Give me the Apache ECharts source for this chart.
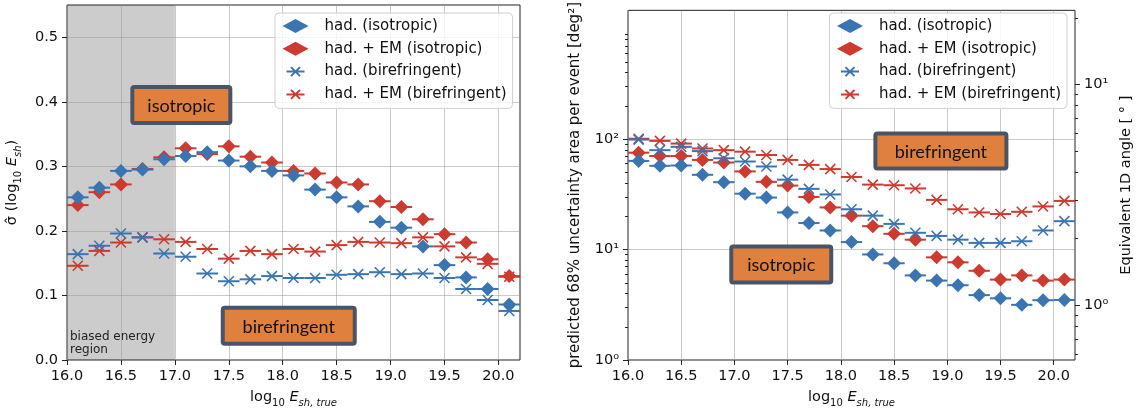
<!DOCTYPE html>
<html>
<head>
<meta charset="utf-8">
<title>Energy resolution and uncertainty area</title>
<script src="https://cdn.jsdelivr.net/npm/echarts@6/dist/echarts.min.js"></script>
<style>
  html, body { margin: 0; padding: 0; background: #fff; }
  #main { width: 1140px; height: 416px; }
</style>
</head>
<body>
<div id="main"></div>
<script>
// bin centres in log10(E_sh,true); every bin is 0.2 wide
var energyBins = [16.1, 16.3, 16.5, 16.7, 16.9, 17.1, 17.3, 17.5, 17.7, 17.9, 18.1,
                  18.3, 18.5, 18.7, 18.9, 19.1, 19.3, 19.5, 19.7, 19.9, 20.1];
var binHalfWidth = 0.1;
var biasedRegion = [16.0, 17.0];

// left panel: sigma(log10 E_sh)
var resHadIso    = [0.252, 0.267, 0.293, 0.295, 0.311, 0.316, 0.322, 0.309, 0.300, 0.293, 0.286,
                    0.264, 0.252, 0.238, 0.214, 0.205, 0.176, 0.147, 0.128, 0.110, 0.086];
var resHadEmIso  = [0.240, 0.260, 0.272, 0.296, 0.314, 0.328, 0.319, 0.331, 0.315, 0.306, 0.293,
                    0.289, 0.275, 0.272, 0.246, 0.237, 0.218, 0.195, 0.182, 0.156, 0.130];
var resHadBire   = [0.164, 0.177, 0.196, 0.190, 0.165, 0.160, 0.134, 0.122, 0.125, 0.130, 0.127,
                    0.127, 0.132, 0.133, 0.136, 0.133, 0.134, 0.127, 0.110, 0.093, 0.076];
var resHadEmBire = [0.146, 0.169, 0.182, 0.190, 0.187, 0.183, 0.172, 0.157, 0.169, 0.164, 0.172,
                    0.168, 0.178, 0.183, 0.182, 0.181, 0.190, 0.176, 0.159, 0.149, 0.129];

// right panel: predicted 68% uncertainty area per event [deg^2]
var areaHadIso    = [63.6, 57.4, 57.8, 47.6, 40.8, 32.1, 29.6, 21.7, 17.4, 14.9, 11.7,
                     9.04, 7.52, 5.84, 5.24, 4.76, 3.87, 3.62, 3.16, 3.48, 3.50];
var areaHadEmIso  = [75.5, 70.4, 70.4, 64.9, 61.5, 51.1, 41.1, 38.0, 30.0, 24.1, 20.3,
                     16.3, 13.9, 12.3, 8.51, 7.67, 6.43, 5.35, 5.84, 5.24, 5.35];
var areaHadBire   = [99.2, 79.6, 85.3, 78.0, 67.2, 62.8, 56.6, 43.0, 35.5, 31.6, 23.2,
                     20.3, 17.1, 14.2, 13.3, 12.3, 11.5, 11.5, 11.9, 14.9, 18.1];
var areaHadEmBire = [101, 96.6, 91.3, 82.4, 79.6, 77.1, 71.9, 64.9, 58.5, 53.6, 45.5,
                     38.8, 38.3, 35.8, 28.2, 23.2, 21.7, 21.0, 22.0, 24.6, 27.6];

// ticks
var xTicks = [16.0, 16.5, 17.0, 17.5, 18.0, 18.5, 19.0, 19.5, 20.0];
var resTicks = [0.0, 0.1, 0.2, 0.3, 0.4, 0.5];
var areaTicks = [1, 10, 100];
var areaMinorTicks = [2, 3, 4, 5, 6, 7, 8, 9, 20, 30, 40, 50, 60, 70, 80, 90,
                      200, 300, 400, 500, 600, 700, 800, 900];
var angleTicks = [1, 10];
var angleMinorTicks = [0.6, 0.7, 0.8, 0.9, 2, 3, 4, 5, 6, 7, 8, 9, 20];

var areaMin = 1, areaMax = 1470;
// area = pi * angle^2
var angleMin = Math.sqrt(areaMin / Math.PI), angleMax = Math.sqrt(areaMax / Math.PI);

var BLUE = '#3a75b1', RED = '#cc3a30';
var FONT = 'DejaVu Sans';
var GRIDCOL = 'rgba(150,150,150,0.5)';
var NAMES = ['had. (isotropic)', 'had. + EM (isotropic)', 'had. (birefringent)', 'had. + EM (birefringent)'];
var X_SYMBOL = 'path://M0,0L10,10M10,0L0,10';
var X_ICON = 'path://M0,0M26,14M4,7L22,7M8.5,2.5L17.5,11.5M17.5,2.5L8.5,11.5';

function zip(vals) {
  return energyBins.map(function (x, i) { return [x, vals[i]]; });
}

function supLabel(v) {
  var sup = ['\u2070', '\u00b9', '\u00b2', '\u00b3'];
  return '10' + sup[Math.round(Math.log10(v))];
}

// error bar segments + markers for one measurement
function pair(name, vals, gi, yi, color, isX) {
  var bars = {
    type: 'custom', xAxisIndex: gi, yAxisIndex: yi, z: 2, silent: true,
    data: zip(vals),
    renderItem: function (params, api) {
      var x = api.value(0), y = api.value(1);
      var a = api.coord([x - binHalfWidth, y]);
      var b = api.coord([x + binHalfWidth, y]);
      return { type: 'line', shape: { x1: a[0], y1: a[1], x2: b[0], y2: b[1] },
               style: { stroke: color, lineWidth: 2 } };
    }
  };
  var marks = {
    type: 'scatter', name: name, xAxisIndex: gi, yAxisIndex: yi, z: 2,
    data: zip(vals),
    symbol: isX ? X_SYMBOL : 'diamond',
    symbolSize: isX ? 10 : 14,
    itemStyle: isX ? { color: color, borderColor: color, borderWidth: 1.6, opacity: 1 }
                   : { color: color, opacity: 1 },
    emphasis: { disabled: true }
  };
  return [bars, marks];
}

var rich = {
  n:  { fontSize: 14.5, fontFamily: FONT, color: '#111', verticalAlign: 'bottom', padding: [0, 0, 3, 0] },
  i:  { fontSize: 14.5, fontFamily: FONT, color: '#111', fontStyle: 'italic', verticalAlign: 'bottom', padding: [0, 0, 3, 0] },
  s:  { fontSize: 10, fontFamily: FONT, color: '#111', verticalAlign: 'bottom' },
  si: { fontSize: 10, fontFamily: FONT, color: '#111', fontStyle: 'italic', verticalAlign: 'bottom' }
};

function xAxisFor(gi) {
  return {
    type: 'value', gridIndex: gi, min: 16, max: 20.2, z: 1,
    axisLine: { show: false, onZero: false },
    axisTick: { customValues: xTicks, length: 5, lineStyle: { color: '#222' } },
    axisLabel: { customValues: xTicks, formatter: function (v) { return v.toFixed(1); },
                 fontSize: 14.5, fontFamily: FONT, color: '#111', margin: 9 },
    splitLine: { show: true, lineStyle: { color: GRIDCOL, width: 1 } },
    name: '{n|log}{s|10}{n| }{i|E}{si|sh, true}',
    nameLocation: 'middle', nameGap: 30,
    nameTextStyle: { rich: rich }
  };
}

function minorAxis(gi, pos, vmin, vmax, ticks) {
  return {
    type: 'log', gridIndex: gi, position: pos, min: vmin, max: vmax, z: 1,
    axisLine: { show: false },
    axisTick: { customValues: ticks, length: 3, lineStyle: { color: '#222' } },
    axisLabel: { show: false },
    splitLine: { show: false }
  };
}

function legendAt(left) {
  return {
    left: left, top: 13, orient: 'vertical',
    padding: [5, 6, 6, 6.5],
    itemWidth: 26, itemHeight: 14, itemGap: 6.8,
    backgroundColor: 'rgba(255,255,255,0.8)',
    borderColor: '#d0d0d0', borderWidth: 1, borderRadius: 4,
    textStyle: { fontSize: 15, fontFamily: FONT, color: '#111', lineHeight: 16, padding: [0, 0, 0, 11] },
    selectedMode: false,
    data: [
      { name: NAMES[0], icon: 'diamond' },
      { name: NAMES[1], icon: 'diamond' },
      { name: NAMES[2], icon: X_ICON },
      { name: NAMES[3], icon: X_ICON }
    ]
  };
}

// orange label boxes, placed in data coordinates: [x, y, text, width, height]
function noteSeries(gi, notes) {
  return {
    type: 'custom', xAxisIndex: gi, yAxisIndex: gi, z: 10, silent: true,
    data: notes,
    renderItem: function (params, api) {
      var c = api.coord([api.value(0), api.value(1)]);
      var w = api.value(3), h = api.value(4);
      return {
        type: 'group', children: [
          { type: 'rect', shape: { x: c[0] - w / 2, y: c[1] - h / 2, width: w, height: h, r: 2 },
            style: { fill: '#e0803f', stroke: '#4a5466', lineWidth: 4 } },
          { type: 'text', style: { text: api.value(2), x: c[0], y: c[1] + 1, align: 'center',
            verticalAlign: 'middle', fontSize: 18, fontFamily: 'Lato', fill: '#111' } }
        ]
      };
    }
  };
}

var series = [];
// shaded biased-energy region (left panel)
series.push({
  type: 'custom', xAxisIndex: 0, yAxisIndex: 0, z: 0, silent: true,
  data: [biasedRegion],
  renderItem: function (params, api) {
    var cs = params.coordSys;
    var x0 = api.coord([api.value(0), 0])[0];
    var x1 = api.coord([api.value(1), 0])[0];
    return {
      type: 'group', children: [
        { type: 'rect', shape: { x: x0, y: cs.y, width: x1 - x0, height: cs.height },
          style: { fill: '#cccccc' } },
        { type: 'text', style: { text: 'biased energy\nregion', x: x0 + 3, y: cs.y + cs.height - 4,
          verticalAlign: 'bottom', fontSize: 12, lineHeight: 12.5, fontFamily: FONT, fill: '#222' } }
      ]
    };
  }
});

series = series.concat(
  pair(NAMES[1], resHadEmIso, 0, 0, RED, false),
  pair(NAMES[0], resHadIso, 0, 0, BLUE, false),
  pair(NAMES[3], resHadEmBire, 0, 0, RED, true),
  pair(NAMES[2], resHadBire, 0, 0, BLUE, true),
  pair(NAMES[1], areaHadEmIso, 1, 1, RED, false),
  pair(NAMES[0], areaHadIso, 1, 1, BLUE, false),
  pair(NAMES[3], areaHadEmBire, 1, 1, RED, true),
  pair(NAMES[2], areaHadBire, 1, 1, BLUE, true)
);

series.push(noteSeries(0, [
  [17.06, 0.395, 'isotropic', 98, 36],
  [18.056, 0.053, 'birefringent', 132, 36]
]));
series.push(noteSeries(1, [
  [18.94, 78.3, 'birefringent', 131, 35],
  [17.44, 7.32, 'isotropic', 100, 36]
]));

var option = {
  animation: false,
  backgroundColor: '#fff',
  grid: [
    { left: 67, top: 5, width: 453, height: 355, show: true, z: 1,
      borderColor: '#222', borderWidth: 1, backgroundColor: 'transparent' },
    { left: 628, top: 4, width: 447, height: 356, show: true, z: 1,
      borderColor: '#222', borderWidth: 1, backgroundColor: 'transparent' }
  ],
  legend: [legendAt(275), legendAt(829.5)],
  xAxis: [xAxisFor(0), xAxisFor(1)],
  yAxis: [
    {
      type: 'value', gridIndex: 0, min: 0, max: 0.55, z: 1,
      axisLine: { show: false },
      axisTick: { customValues: resTicks, length: 5, lineStyle: { color: '#222' } },
      axisLabel: { customValues: resTicks, formatter: function (v) { return v.toFixed(1); },
                   fontSize: 14.5, fontFamily: FONT, color: '#111', margin: 9 },
      splitLine: { show: true, lineStyle: { color: GRIDCOL, width: 1 } },
      name: '{n|\u03c3\u0302 (log}{s|10}{n| }{i|E}{si|sh}{n|)}',
      nameLocation: 'middle', nameGap: 44, nameRotate: 90,
      nameTextStyle: { rich: rich }
    },
    {
      type: 'log', gridIndex: 1, position: 'left', min: areaMin, max: areaMax, z: 1,
      axisLine: { show: false },
      axisTick: { customValues: areaTicks, length: 5, lineStyle: { color: '#222' } },
      axisLabel: { customValues: areaTicks, formatter: supLabel,
                   fontSize: 14.5, fontFamily: FONT, color: '#111', margin: 9 },
      splitLine: { show: true, lineStyle: { color: GRIDCOL, width: 1 } },
      name: 'predicted 68% uncertainty area per event [deg\u00b2]',
      nameLocation: 'middle', nameGap: 45, nameRotate: 90,
      nameTextStyle: { fontSize: 15, fontFamily: FONT, color: '#111' }
    },
    minorAxis(1, 'left', areaMin, areaMax, areaMinorTicks),
    {
      type: 'log', gridIndex: 1, position: 'right', min: angleMin, max: angleMax, z: 1,
      axisLine: { show: false },
      axisTick: { customValues: angleTicks, length: 5, lineStyle: { color: '#222' } },
      axisLabel: { customValues: angleTicks, formatter: supLabel,
                   fontSize: 14.5, fontFamily: FONT, color: '#111', margin: 9 },
      splitLine: { show: false },
      name: 'Equivalent 1D angle [ \u00b0 ]',
      nameLocation: 'middle', nameGap: 44, nameRotate: 90,
      nameTextStyle: { fontSize: 14.5, fontFamily: FONT, color: '#111' }
    },
    minorAxis(1, 'right', angleMin, angleMax, angleMinorTicks)
  ],
  series: series
};

var chart = echarts.init(document.getElementById('main'), null, { renderer: 'canvas' });
chart.setOption(option);
</script>
</body>
</html>
